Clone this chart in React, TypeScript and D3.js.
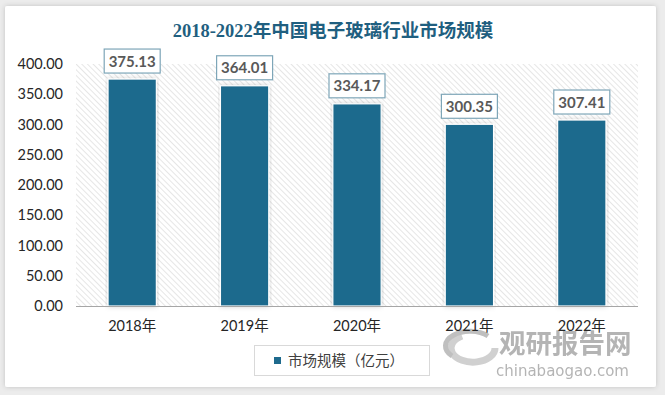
import * as d3 from "d3";
import React, { useEffect, useRef } from "react";

const years = ["2018年", "2019年", "2020年", "2021年", "2022年"];
const marketSize = [375.13, 364.01, 334.17, 300.35, 307.41];
const yTicks = [0, 50, 100, 150, 200, 250, 300, 350, 400];
const title = "2018-2022年中国电子玻璃行业市场规模";
const seriesName = "市场规模（亿元）";

const W = 665;
const H = 395;
const BAR = "#1e6a8d";

const App: React.FC = () => {
  const ref = useRef<SVGSVGElement | null>(null);

  useEffect(() => {
    if (!ref.current) return;
    const svg = d3.select(ref.current);
    svg.selectAll("*").remove();

    const plot = { left: 76, right: 638, top: 64, bottom: 306 };

    // outer grey page + white card
    const defs = svg.append("defs");
    const f = defs.append("filter").attr("id", "shadow").attr("x", -0.05).attr("y", -0.05).attr("width", 1.1).attr("height", 1.1);
    f.append("feDropShadow").attr("dx", 0).attr("dy", 0).attr("stdDeviation", 2.5).attr("flood-color", "#000").attr("flood-opacity", 0.18);

    const pat = defs
      .append("pattern")
      .attr("id", "hatch")
      .attr("width", 4)
      .attr("height", 4)
      .attr("patternUnits", "userSpaceOnUse")
      .attr("patternTransform", "rotate(-45)");
    pat.append("rect").attr("width", 4).attr("height", 4).attr("fill", "#ffffff");
    pat.append("line").attr("x1", 0).attr("y1", 0).attr("x2", 0).attr("y2", 4).attr("stroke", "#dcdcdc").attr("stroke-width", 1.4);

    svg.append("rect").attr("width", W).attr("height", H).attr("fill", "#ececec");
    svg
      .append("rect")
      .attr("x", 5)
      .attr("y", 6)
      .attr("width", 651)
      .attr("height", 381)
      .attr("rx", 2)
      .attr("fill", "#ffffff")
      .attr("filter", "url(#shadow)");

    // title
    svg
      .append("text")
      .attr("x", 333)
      .attr("y", 37)
      .attr("text-anchor", "middle")
      .attr("font-family", "'Liberation Serif', 'Noto Sans CJK SC', serif")
      .attr("font-weight", "bold")
      .attr("font-size", 18.5)
      .attr("fill", "#1f5f80")
      .text(title);

    const x = d3
      .scaleBand<string>()
      .domain(years)
      .range([plot.left, plot.right])
      .paddingInner(0.57)
      .paddingOuter(0.285);

    const y = d3.scaleLinear().domain([0, 400]).range([plot.bottom, plot.top]);

    // hatched plot background
    svg
      .append("rect")
      .attr("x", plot.left)
      .attr("y", plot.top)
      .attr("width", plot.right - plot.left)
      .attr("height", plot.bottom - plot.top)
      .attr("fill", "url(#hatch)");

    // watermark (under labels)
    const wm = svg.append("g").attr("opacity", 0.85);
    wm.append("path")
      .attr("d", "M 462 336 A 22 14 0 1 0 495 348")
      .attr("fill", "none")
      .attr("stroke", "#c8c8c8")
      .attr("stroke-width", 7);
    wm.append("path")
      .attr("d", "M 452 356 A 20 12 0 0 1 488 336")
      .attr("fill", "none")
      .attr("stroke", "#b5b5b5")
      .attr("stroke-width", 5);
    wm.append("text")
      .attr("x", 499)
      .attr("y", 353)
      .attr("font-family", "'Noto Sans CJK SC', sans-serif")
      .attr("font-weight", "bold")
      .attr("font-size", 26.5)
      .attr("fill", "#a8a8a8")
      .text("观研报告网");
    wm.append("text")
      .attr("x", 496)
      .attr("y", 376)
      .attr("font-family", "'DejaVu Sans', sans-serif")
      .attr("font-size", 15)
      .attr("fill", "#a8a8a8")
      .text("chinabaogao.com");

    // bars
    svg
      .append("g")
      .selectAll("rect")
      .data(marketSize)
      .join("rect")
      .attr("x", (_, i) => x(years[i])!)
      .attr("y", (d) => y(d))
      .attr("width", x.bandwidth())
      .attr("height", (d) => y(0) - y(d))
      .attr("fill", BAR)
      .attr("stroke", "#ffffff")
      .attr("stroke-width", 1.2)
      .attr("filter", "url(#shadow)");

    // x axis line
    svg
      .append("line")
      .attr("x1", plot.left)
      .attr("x2", plot.right)
      .attr("y1", plot.bottom + 0.5)
      .attr("y2", plot.bottom + 0.5)
      .attr("stroke", "#a6a6a6")
      .attr("stroke-width", 1.2);

    // data labels
    const lbl = svg
      .append("g")
      .selectAll("g")
      .data(marketSize)
      .join("g")
      .attr("transform", (d, i) => `translate(${x(years[i])! + x.bandwidth() / 2},${y(d) - 6})`);
    lbl
      .append("rect")
      .attr("x", -28)
      .attr("y", -24)
      .attr("width", 56)
      .attr("height", 24)
      .attr("fill", "#ffffff")
      .attr("stroke", "#7ea6b8")
      .attr("stroke-width", 1.2);
    lbl
      .append("text")
      .attr("y", -6.5)
      .attr("text-anchor", "middle")
      .attr("font-family", "Lato, 'Open Sans', sans-serif")
      .attr("font-weight", "bold")
      .attr("font-size", 15)
      .attr("fill", "#595959")
      .text((d) => d.toFixed(2));

    // y axis labels
    svg
      .append("g")
      .selectAll("text")
      .data(yTicks)
      .join("text")
      .attr("x", 63)
      .attr("y", (d) => y(d) + 5)
      .attr("text-anchor", "end")
      .attr("font-family", "Lato, 'Open Sans', sans-serif")
      .attr("font-size", 14.5)
      .attr("fill", "#262626")
      .text((d) => d3.format(".2f")(d));

    // x axis labels
    svg
      .append("g")
      .selectAll("text")
      .data(years)
      .join("text")
      .attr("x", (d) => x(d)! + x.bandwidth() / 2)
      .attr("y", 331)
      .attr("text-anchor", "middle")
      .attr("font-family", "Lato, 'Noto Sans CJK SC', sans-serif")
      .attr("font-size", 14.5)
      .attr("fill", "#262626")
      .text((d) => d);

    // legend
    const lg = svg.append("g");
    lg.append("rect")
      .attr("x", 254.5)
      .attr("y", 345.5)
      .attr("width", 175)
      .attr("height", 30)
      .attr("fill", "#ffffff")
      .attr("stroke", "#d9d9d9");
    lg.append("rect").attr("x", 274).attr("y", 357).attr("width", 7).attr("height", 7).attr("fill", BAR);
    lg.append("text")
      .attr("x", 288)
      .attr("y", 366)
      .attr("font-family", "'Noto Sans CJK SC', sans-serif")
      .attr("font-size", 14.5)
      .attr("fill", "#404040")
      .text(seriesName);
  }, []);

  return (
    <div style={{ position: "fixed", left: 0, top: 0 }}>
      <svg ref={ref} width={W} height={H} style={{ display: "block" }} />
    </div>
  );
};

export default App;
